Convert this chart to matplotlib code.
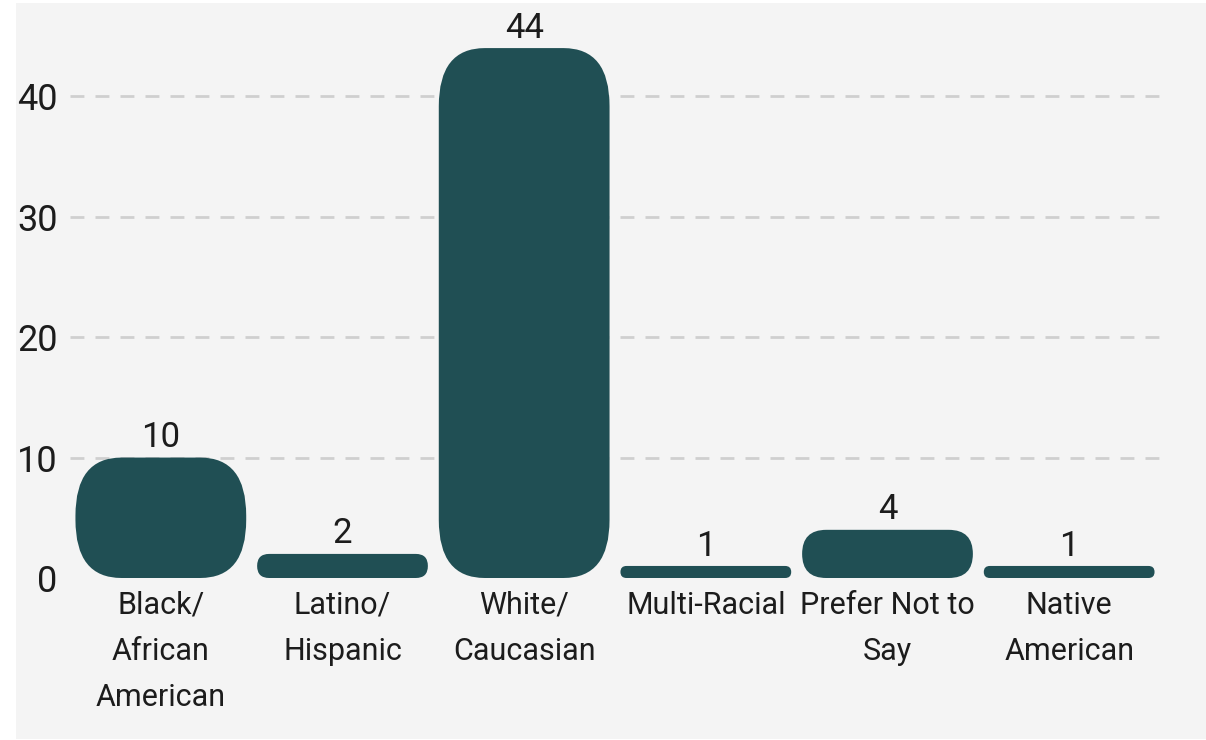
import matplotlib
matplotlib.use('Agg')
import matplotlib.pyplot as plt
from matplotlib.patches import FancyBboxPatch, Rectangle

categories = ['Black/\nAfrican\nAmerican', 'Latino/\nHispanic', 'White/\nCaucasian',
              'Multi-Racial', 'Prefer Not to\nSay', 'Native\nAmerican']
counts = [10, 2, 44, 1, 4, 1]
yticks = [0, 10, 20, 30, 40]

bar_color = '#204f54'
bg_color = '#f4f4f4'
text_color = '#1c1c1c'

plt.rcParams['font.family'] = ['Roboto', 'DejaVu Sans']

fig = plt.figure(figsize=(12.06, 7.4), dpi=100)
fig.patch.set_facecolor('white')
# grey panel (small white strip on the left and top)
fig.add_artist(Rectangle((16 / 1206, 1 / 740), 1 - 16 / 1206, 736 / 740,
                         transform=fig.transFigure, facecolor=bg_color,
                         edgecolor='none', zorder=-10))

ax = fig.add_axes([70 / 1206, 162 / 740, 1090 / 1206, 554 / 740])
ax.patch.set_alpha(0)
ax.set_xlim(-0.5, len(categories) - 0.5)
ax.set_ylim(0, 46)

# pixels per data unit
ax_w = ax.get_position().width * fig.get_figwidth() * fig.dpi
ax_h = ax.get_position().height * fig.get_figheight() * fig.dpi
px_x = ax_w / len(categories)
px_y = ax_h / 46

width = 0.94
for i, v in enumerate(counts):
    h_px = v * px_y
    rx = min(46, h_px / 2) / px_x
    ry = min(58, h_px / 2) / px_y
    patch = FancyBboxPatch((i - width / 2, 0), width, v,
                           boxstyle='round,pad=0,rounding_size=%f' % rx,
                           mutation_aspect=ry / rx,
                           facecolor=bar_color, edgecolor='none', zorder=3)
    ax.add_patch(patch)
    ax.annotate(str(v), (i, v), xytext=(0, 7.5), textcoords='offset points',
                ha='center', va='baseline', fontsize=25, color=text_color,
                annotation_clip=False)

for y in yticks[1:]:
    ax.axhline(y, color='#cfcfcf', linewidth=2, linestyle=(0, (5, 4)), zorder=1)

ax.set_xticks(range(len(categories)))
ax.set_xticklabels(categories, fontsize=22, color=text_color, linespacing=1.75)
ax.set_yticks(yticks)
ax.set_yticklabels([str(t) for t in yticks], fontsize=26, color=text_color)
ax.tick_params(axis='x', length=0, pad=9)
ax.tick_params(axis='y', length=0, pad=9)
for s in ax.spines.values():
    s.set_visible(False)

fig.savefig('out.png', dpi=100, facecolor=fig.get_facecolor())
